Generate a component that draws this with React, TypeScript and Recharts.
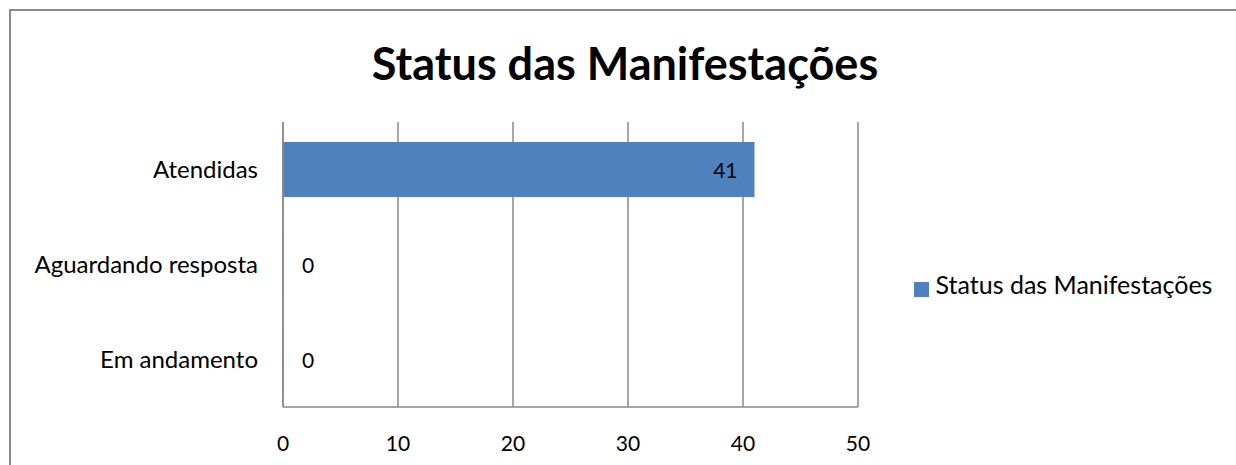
import React from "react";
import { BarChart, Bar, XAxis, YAxis, CartesianGrid, Legend, LabelList } from "recharts";

const categories = ["Atendidas", "Aguardando resposta", "Em andamento"];
const values = [41, 0, 0];
const xTicks = [0, 10, 20, 30, 40, 50];
const seriesName = "Status das Manifestações";
const title = "Status das Manifestações";

const FONT = "Lato, 'Noto Sans', sans-serif";
const BLUE = "#4f81bd";
const GRID = "#888888";

const data = categories.map((name, i) => ({ name, value: values[i] }));

// label inside the end of a long bar, beside the axis for zero-length ones
function renderValueLabel(props: any) {
  const { x, y, width, height, value } = props;
  const w = Number(width) || 0;
  const inside = w > 40;
  return (
    <text
      x={inside ? x + w - 17 : x + 25}
      y={y + height / 2}
      textAnchor={inside ? "end" : "middle"}
      dominantBaseline="central"
      fill="#000"
      fontSize={21}
      fontFamily={FONT}
    >
      {String(value)}
    </text>
  );
}

export default function App() {
  return (
    <div
      style={{
        position: "absolute",
        left: 9,
        top: 9,
        width: 1260,
        height: 480,
        border: "2px solid #8a8a8a",
        background: "#fff",
        fontFamily: FONT,
      }}
    >
      <div
        style={{
          position: "absolute",
          left: 0,
          width: 1228,
          top: 27,
          textAlign: "center",
          fontSize: 45,
          fontWeight: 700,
          color: "#000",
          lineHeight: "50px",
        }}
      >
        {title}
      </div>
      <BarChart
        width={1240}
        height={470}
        layout="vertical"
        data={data}
        margin={{ top: 111, right: 393, left: 0, bottom: 24 }}
      >
        <CartesianGrid horizontal={false} stroke={GRID} strokeWidth={1.5} />
        <XAxis
          type="number"
          domain={[0, 50]}
          ticks={xTicks}
          height={50}
          tickLine={false}
          tickSize={6}
          tickMargin={23}
          axisLine={{ stroke: GRID, strokeWidth: 1.5 }}
          tick={{ fill: "#000", fontSize: 21, fontFamily: FONT }}
        />
        <YAxis
          type="category"
          dataKey="name"
          width={272}
          tickLine={false}
          tickSize={6}
          tickMargin={19}
          axisLine={{ stroke: GRID, strokeWidth: 1.5 }}
          tick={{ fill: "#000", fontSize: 24, fontFamily: FONT }}
        />
        <Legend
          layout="horizontal"
          verticalAlign="middle"
          align="center"
          iconType="square"
          iconSize={15}
          wrapperStyle={{ left: 887, top: 258, width: 340 }}
          formatter={(v: string) => (
            <span style={{ color: "#000", fontSize: 25, fontFamily: FONT, marginLeft: 3 }}>{v}</span>
          )}
        />
        <Bar
          dataKey="value"
          name={seriesName}
          fill={BLUE}
          barSize={55}
          minPointSize={0.01}
          isAnimationActive={false}
        >
          <LabelList dataKey="value" content={renderValueLabel} />
        </Bar>
      </BarChart>
    </div>
  );
}
